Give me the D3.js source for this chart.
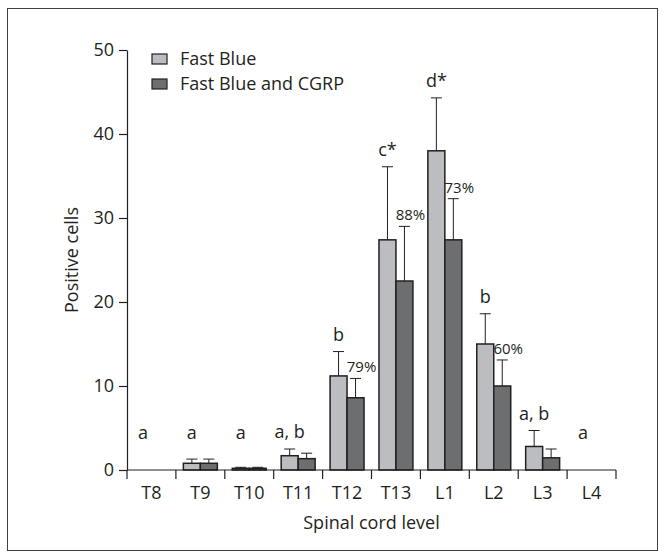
<!DOCTYPE html>
<html>
<head>
<meta charset="utf-8">
<script src="https://cdn.jsdelivr.net/npm/d3@7"></script>
<style>
  body { margin: 0; background: #fff; }
  svg text { font-family: "Open Sans", sans-serif; fill: #231f20; }
</style>
</head>
<body>
<div id="chart"></div>
<script>
const levels = ['T8', 'T9', 'T10', 'T11', 'T12', 'T13', 'L1', 'L2', 'L3', 'L4'];
const fastBlue = [0, 0.8, 0.2, 1.7, 11.2, 27.4, 38.0, 15.0, 2.8, 0];
const fastBlueErr = [0, 0.5, 0.12, 0.8, 2.9, 8.7, 6.3, 3.6, 1.9, 0];
const cgrp = [0, 0.8, 0.2, 1.35, 8.6, 22.5, 27.4, 10.0, 1.45, 0];
const cgrpErr = [0, 0.5, 0.12, 0.65, 2.3, 6.5, 4.9, 3.1, 1.05, 0];
const letters = ['a', 'a', 'a', 'a, b', 'b', 'c*', 'd*', 'b', 'a, b', 'a'];
const percents = ['', '', '', '', '79%', '88%', '73%', '60%', '', ''];
const series = ['Fast Blue', 'Fast Blue and CGRP'];
const yTicks = [0, 10, 20, 30, 40, 50];

const width = 665;
const height = 559;
const colors = { 'Fast Blue': '#bcbdc0', 'Fast Blue and CGRP': '#6d6e70' };
const ink = '#231f20';
const fontSize = 18;

const svg = d3.select('#chart')
  .append('svg')
  .attr('width', width)
  .attr('height', height);

// outer frame
svg.append('rect')
  .attr('x', 7.5).attr('y', 8.5)
  .attr('width', 650).attr('height', 542)
  .attr('fill', 'none')
  .attr('stroke', '#3f3f41')
  .attr('stroke-width', 1);

const x = d3.scaleBand().domain(levels).range([127, 616]).padding(0);
const xs = d3.scaleBand().domain(series).range([0, x.bandwidth()]).paddingInner(0).paddingOuter(0.44);
const y = d3.scaleLinear().domain([0, 50]).range([470, 50]);

const rows = levels.map((level, i) => ({
  level,
  values: [
    { key: series[0], value: fastBlue[i], err: fastBlueErr[i] },
    { key: series[1], value: cgrp[i], err: cgrpErr[i] }
  ]
}));

// y axis
const yAxis = svg.append('g')
  .attr('transform', 'translate(127,0)')
  .call(d3.axisLeft(y).tickValues(yTicks).tickSize(8).tickSizeOuter(0).tickPadding(5));
yAxis.selectAll('line, path').attr('stroke', ink).attr('stroke-width', 1.2);
yAxis.selectAll('text').attr('font-size', fontSize).attr('fill', ink).attr('font-family', '"Open Sans", sans-serif');

// bars
const groups = svg.append('g')
  .selectAll('g')
  .data(rows)
  .join('g')
  .attr('transform', (d) => `translate(${x(d.level)},0)`);

const bars = groups.selectAll('g')
  .data((d) => d.values.filter((v) => v.value > 0))
  .join('g');

bars.append('line')
  .attr('x1', (d) => xs(d.key) + xs.bandwidth() / 2)
  .attr('x2', (d) => xs(d.key) + xs.bandwidth() / 2)
  .attr('y1', (d) => y(d.value))
  .attr('y2', (d) => y(d.value + d.err))
  .attr('stroke', ink)
  .attr('stroke-width', 1);

bars.append('line')
  .attr('x1', (d) => xs(d.key) + xs.bandwidth() / 2 - 5.5)
  .attr('x2', (d) => xs(d.key) + xs.bandwidth() / 2 + 5.5)
  .attr('y1', (d) => y(d.value + d.err))
  .attr('y2', (d) => y(d.value + d.err))
  .attr('stroke', ink)
  .attr('stroke-width', 1);

bars.append('rect')
  .attr('x', (d) => xs(d.key))
  .attr('y', (d) => y(d.value))
  .attr('width', xs.bandwidth())
  .attr('height', (d) => y(0) - y(d.value))
  .attr('fill', (d) => colors[d.key])
  .attr('stroke', ink)
  .attr('stroke-width', 1.5);

// x axis line and boundary ticks
const xAxis = svg.append('g').attr('transform', 'translate(0,470)');
xAxis.append('line')
  .attr('x1', 127).attr('x2', 616)
  .attr('stroke', ink).attr('stroke-width', 1.2);
xAxis.selectAll('line.tick')
  .data(levels.map((l) => x(l)).concat([x.range()[1]]))
  .join('line')
  .attr('class', 'tick')
  .attr('x1', (d) => d).attr('x2', (d) => d)
  .attr('y1', 0).attr('y2', 9)
  .attr('stroke', ink).attr('stroke-width', 1.2);
xAxis.selectAll('text')
  .data(levels)
  .join('text')
  .attr('x', (d) => x(d) + x.bandwidth() / 2)
  .attr('y', 29)
  .attr('text-anchor', 'middle')
  .attr('font-size', fontSize)
  .text((d) => d);

// significance letters above Fast Blue bars
svg.append('g')
  .selectAll('text')
  .data(rows)
  .join('text')
  .attr('x', (d) => x(d.level) + xs(series[0]) + xs.bandwidth() / 2)
  .attr('y', (d, i) => Math.min(y(fastBlue[i] + fastBlueErr[i]) - 11, 439))
  .attr('text-anchor', 'middle')
  .attr('font-size', fontSize)
  .text((d, i) => letters[i]);

// co-labelling percentages above CGRP bars
svg.append('g')
  .selectAll('text')
  .data(rows.filter((d, i) => percents[i]))
  .join('text')
  .attr('x', (d) => x(d.level) + xs(series[1]) + xs.bandwidth() / 2 + 6)
  .attr('y', (d) => y(d.values[1].value + d.values[1].err) - 6)
  .attr('text-anchor', 'middle')
  .attr('font-size', 15)
  .text((d) => percents[levels.indexOf(d.level)]);

// axis titles
svg.append('text')
  .attr('x', (127 + 616) / 2)
  .attr('y', 529)
  .attr('text-anchor', 'middle')
  .attr('font-size', fontSize)
  .text('Spinal cord level');

svg.append('text')
  .attr('transform', `translate(72,${(y(0) + y(50)) / 2}) rotate(-90)`)
  .attr('dy', '0.35em')
  .attr('text-anchor', 'middle')
  .attr('font-size', fontSize)
  .text('Positive cells');

// legend
const legend = svg.append('g')
  .selectAll('g')
  .data(series)
  .join('g')
  .attr('transform', (d, i) => `translate(152,${54 + i * 25})`);
legend.append('rect')
  .attr('width', 15).attr('height', 10)
  .attr('fill', (d) => colors[d])
  .attr('stroke', ink).attr('stroke-width', 1.2);
legend.append('text')
  .attr('x', 28).attr('y', 11)
  .attr('font-size', fontSize)
  .text((d) => d);
</script>
</body>
</html>
